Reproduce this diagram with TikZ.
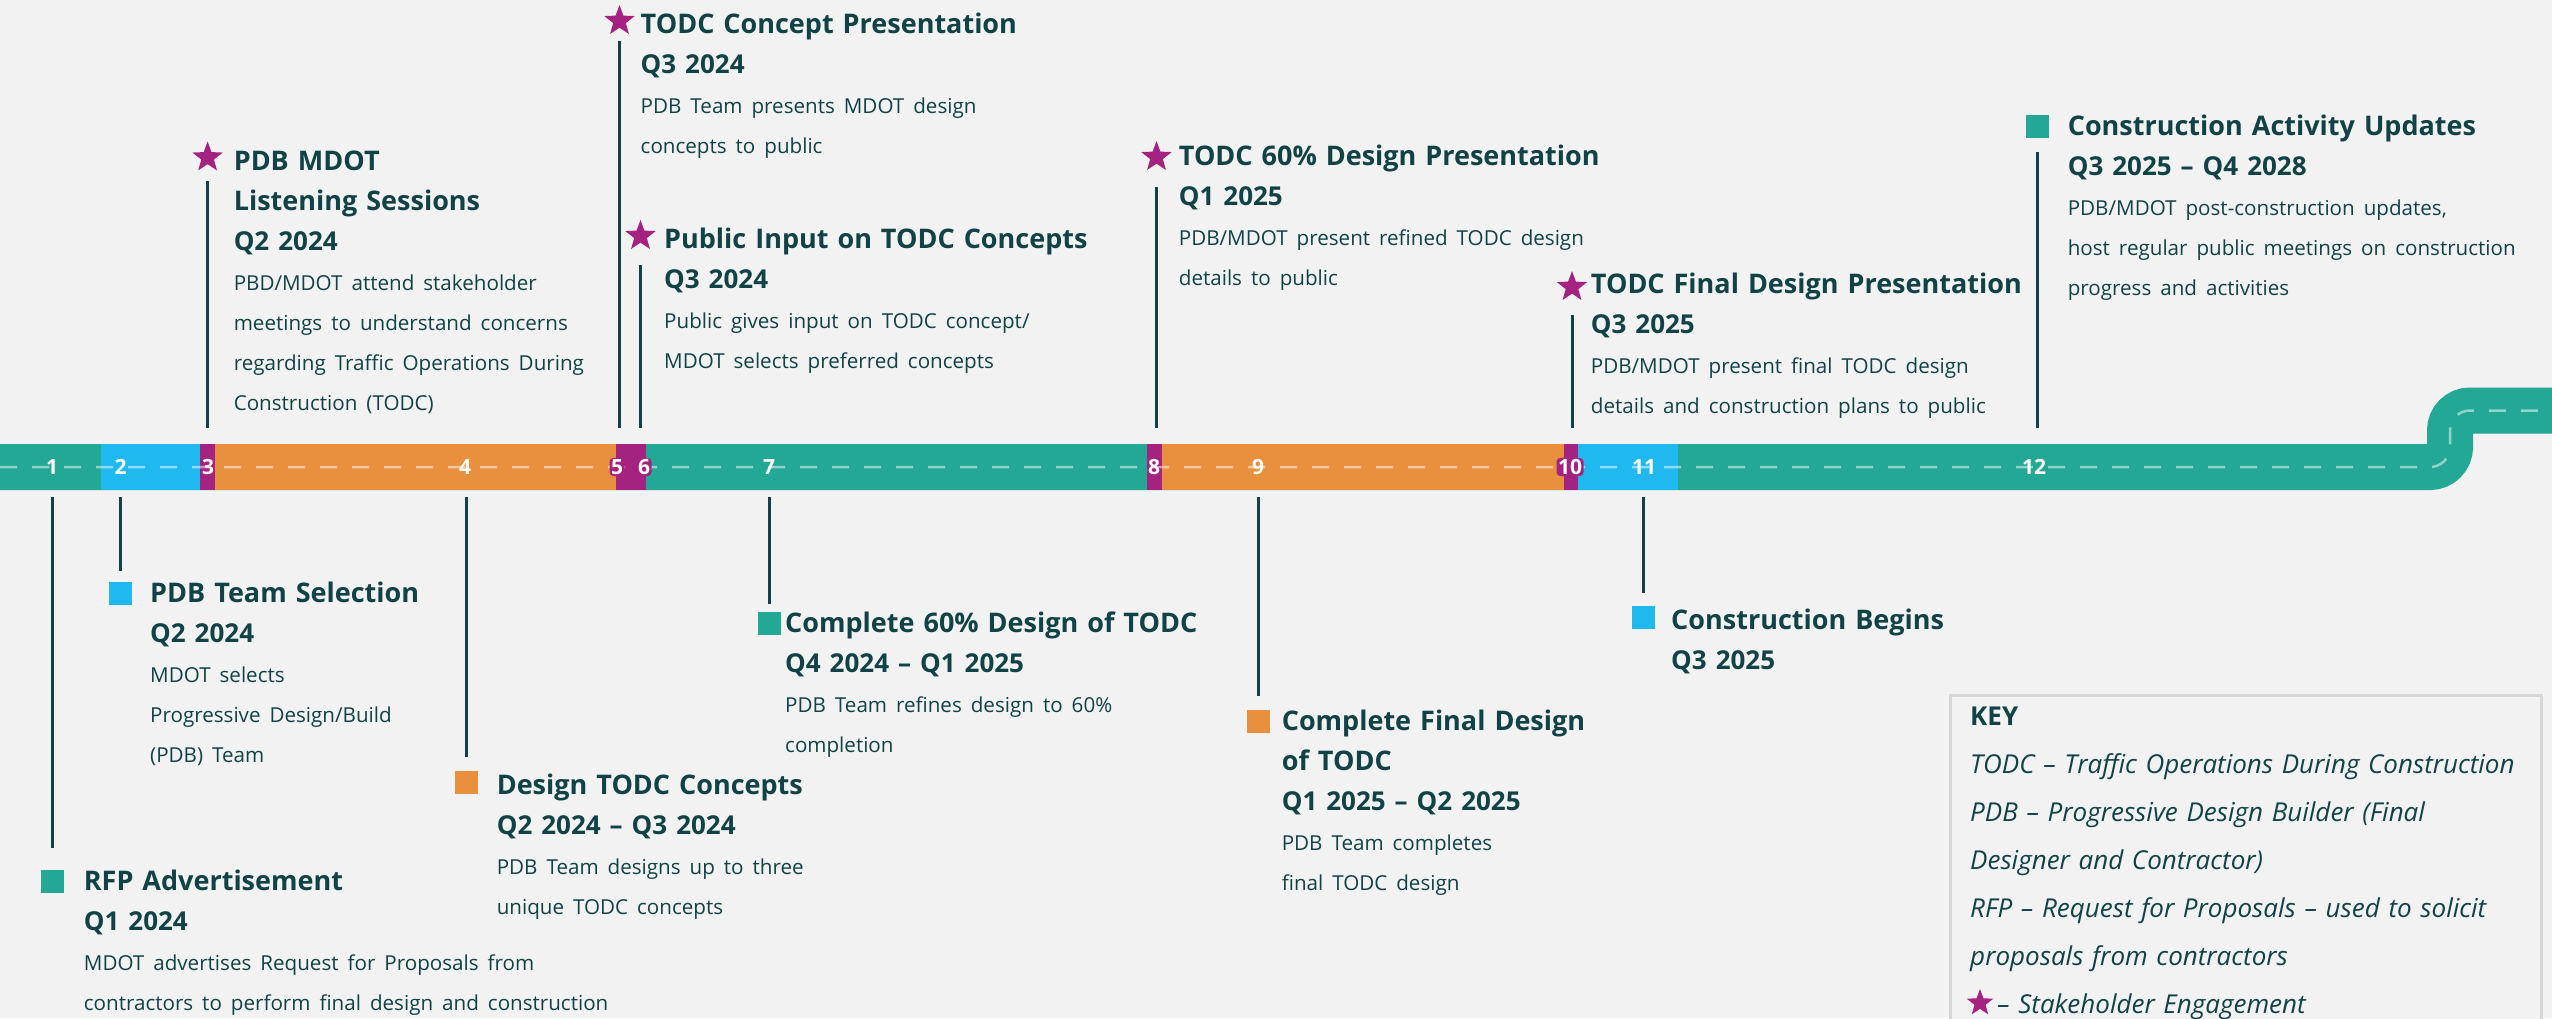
\documentclass[tikz,border=0pt]{standalone}
\usepackage{fontspec}
\setmainfont{Open Sans}
\definecolor{roadteal}{RGB}{35, 168, 150}
\definecolor{roadblue}{RGB}{31, 185, 240}
\definecolor{roadpurple}{RGB}{165, 35, 128}
\definecolor{roadorange}{RGB}{232, 144, 62}
\definecolor{ink}{RGB}{16, 66, 70}
\definecolor{paper}{RGB}{242, 242, 242}
\definecolor{keyline}{RGB}{214, 214, 214}
\usetikzlibrary{shapes.geometric, calc}
\newcommand{\headtxt}{\fontsize{27}{40}\selectfont\bfseries}
\newcommand{\datetxt}{\fontsize{26}{40}\selectfont\bfseries}
\newcommand{\bodytxt}{\fontsize{20.6}{40}\selectfont\mdseries}

\begin{document}
\begin{tikzpicture}[x=1pt, y=-1pt,
  evt/.style={anchor=base west, align=left, inner sep=0pt, text width=620pt, text=ink,
    font=\headtxt},
  num/.style={text=white, inner sep=1.5pt, font=\fontsize{21}{21}\selectfont\bfseries},
  pnum/.style={num, fill=roadpurple, rounded corners=4pt},
  sq/.style={fill=#1, minimum size=23pt, inner sep=0pt},
  stk/.style={star, star points=5, star point ratio=2.4, fill=roadpurple, minimum size=32pt, inner sep=0pt},
  stem/.style={draw=ink, line width=3pt},
]
\useasboundingbox (0,0) rectangle (2552,1018);
\fill[paper] (0,0) rectangle (2552,1018);

% Road
\coordinate (roadT) at (0,428);
\coordinate (roadB) at (0,497);
\draw[roadteal, line width=46pt, rounded corners=20pt]
     (-5,467) -- (2450,467) -- (2450,410.5) -- (2560,410.5);
\fill[roadblue] (100.5,444) rectangle (200,490);
\fill[roadpurple] (200,444) rectangle (215,490);
\fill[roadorange] (215,444) rectangle (616,490);
\fill[roadpurple] (616,444) rectangle (646.4,490);
\fill[roadpurple] (1146.8,444) rectangle (1162.3,490);
\fill[roadorange] (1162.3,444) rectangle (1563.6,490);
\fill[roadpurple] (1563.6,444) rectangle (1578,490);
\fill[roadblue] (1578,444) rectangle (1677.8,490);
\draw[white, opacity=0.5, line width=2.5pt, dash pattern=on 17pt off 15pt, rounded corners=20pt]
     (0,467) -- (2450,467) -- (2450,410.5) -- (2560,410.5);

\node[num] (s1) at (52,467) {1};
\node[num] (s2) at (120.5,467) {2};
\node[num] (s3) at (208,467) {3};
\node[num] (s4) at (465,467) {4};
\node[pnum] (s5) at (617,467) {5};
\node[pnum] (s6) at (644,467) {6};
\node[num] (s7) at (769,467) {7};
\node[num] (s8) at (1154,467) {8};
\node[num] (s9) at (1258,467) {9};
\node[pnum] (s10) at (1570,467) {10};
\node[num] (s11) at (1644,467) {11};
\node[num] (s12) at (2034,467) {12};

% Above the road
\node[stk] (mListen) at (207.6,157.5) {};
\node[evt] (tListen) at (233.6,170.7)
{PDB MDOT\\Listening Sessions\\\datetxt Q2 2024\\\bodytxt PBD/MDOT attend stakeholder\\meetings to understand concerns\\regarding Traffic Operations During\\Construction (TODC)};
\draw[stem, shorten <=17pt] (mListen) -- (mListen |- roadT);

\node[stk] (mConcept) at (619.5,21) {};
\node[evt] (tConcept) at (640.5,33.3)
{TODC Concept Presentation\\\datetxt Q3 2024\\\bodytxt PDB Team presents MDOT design\\concepts to public};
\draw[stem, shorten <=13pt] (mConcept) -- (mConcept |- roadT);

\node[stk] (mInput) at (640.5,236) {};
\node[evt] (tInput) at (664,248)
{Public Input on TODC Concepts\\\datetxt Q3 2024\\\bodytxt Public gives input on TODC concept/\\MDOT selects preferred concepts};
\draw[stem, shorten <=22pt] (mInput) -- (mInput |- roadT);

\node[stk] (mSixty) at (1156.5,157) {};
\node[evt] (tSixty) at (1178.7,165)
{TODC 60\% Design Presentation\\\datetxt Q1 2025\\\bodytxt PDB/MDOT present refined TODC design\\details to public};
\draw[stem, shorten <=23pt] (mSixty) -- (mSixty |- roadT);

\node[stk] (mFinalPres) at (1572,287) {};
\node[evt] (tFinalPres) at (1590.7,293)
{TODC Final Design Presentation\\\datetxt Q3 2025\\\bodytxt PDB/MDOT present final TODC design\\details and construction plans to public};
\draw[stem, shorten <=21pt] (mFinalPres) -- (mFinalPres |- roadT);

\node[sq=roadteal] (mUpdates) at (2037.5,126.5) {};
\node[evt] (tUpdates) at (2067.6,135)
{Construction Activity Updates\\\datetxt Q3 2025 -- Q4 2028\\\bodytxt PDB/MDOT post-construction updates,\\host regular public meetings on construction\\progress and activities};
\draw[stem, shorten <=14pt] (mUpdates) -- (mUpdates |- roadT);

% Below the road
\node[sq=roadteal] (mRfp) at (52.6,881.5) {};
\node[evt] (tRfp) at (83.7,890)
{RFP Advertisement\\\datetxt Q1 2024\\\bodytxt MDOT advertises Request for Proposals from\\contractors to perform final design and construction};
\draw[stem, shorten >=22pt] (mRfp |- roadB) -- (mRfp);

\node[sq=roadblue] (mTeam) at (120.5,593) {};
\node[evt] (tTeam) at (150,602.7)
{PDB Team Selection\\\datetxt Q2 2024\\\bodytxt MDOT selects\\Progressive Design/Build\\(PDB) Team};
\draw[stem, shorten >=10pt] (mTeam |- roadB) -- (mTeam);

\node[sq=roadorange] (mDesign) at (466.5,782.5) {};
\node[evt] (tDesign) at (496.6,794)
{Design TODC Concepts\\\datetxt Q2 2024 -- Q3 2024\\\bodytxt PDB Team designs up to three\\unique TODC concepts};
\draw[stem, shorten >=14pt] (mDesign |- roadB) -- (mDesign);

\node[sq=roadteal] (mRefine) at (769.5,623.5) {};
\node[evt] (tRefine) at (785,632.7)
{Complete 60\% Design of TODC\\\datetxt Q4 2024 -- Q1 2025\\\bodytxt PDB Team refines design to 60\%\\completion};
\draw[stem, shorten >=8pt] (mRefine |- roadB) -- (mRefine);

\node[sq=roadorange] (mFinal) at (1258.5,721.4) {};
\node[evt] (tFinal) at (1281.6,730)
{Complete Final Design\\of TODC\\\datetxt Q1 2025 -- Q2 2025\\\bodytxt PDB Team completes\\final TODC design};
\draw[stem, shorten >=14pt] (mFinal |- roadB) -- (mFinal);

\node[sq=roadblue] (mBegin) at (1643.5,617.5) {};
\node[evt] (tBegin) at (1671,629)
{Construction Begins\\\datetxt Q3 2025};
\draw[stem, shorten >=13pt] (mBegin |- roadB) -- (mBegin);

% Key
\draw[keyline, line width=3pt, fill=paper] (1950,695) rectangle (2541,1040);
\node[evt, text width=560pt, font=\fontsize{26}{48}\selectfont\itshape] (key) at (1970,725)
{\textbf{\upshape KEY}\\TODC -- Traffic Operations During Construction\\PDB -- Progressive Design Builder (Final\\Designer and Contractor)\\RFP -- Request for Proposals -- used to solicit\\proposals from contractors\\\hspace*{27pt}-- Stakeholder Engagement};
\node[stk, minimum size=28pt] (keystar) at (1980,1003) {};
\end{tikzpicture}
\end{document}
